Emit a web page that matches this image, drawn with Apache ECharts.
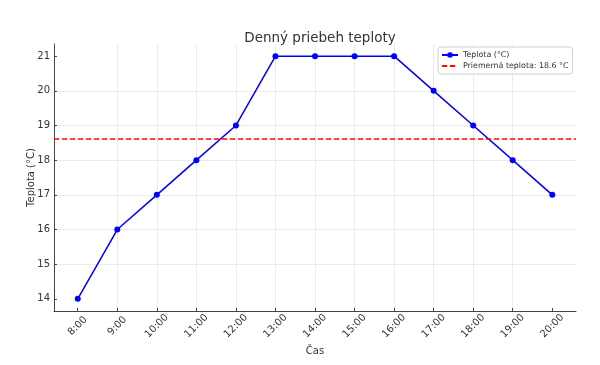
<!DOCTYPE html>
<html>
<head>
<meta charset="utf-8">
<script src="https://cdn.jsdelivr.net/npm/echarts@6/dist/echarts.min.js"></script>
<style>html,body{margin:0;padding:0;background:#fff}#c{width:600px;height:365px}</style>
</head>
<body>
<div id="c"></div>
<script>
const categories = ['8:00','9:00','10:00','11:00','12:00','13:00','14:00','15:00','16:00','17:00','18:00','19:00','20:00'];
const temperatures = [14,16,17,18,19,21,21,21,21,20,19,18,17];
const yTicks = [14,15,16,17,18,19,20,21];

const avg = temperatures.reduce((a,b)=>a+b,0)/temperatures.length;
const xIdx = categories.map((_,i)=>i);
const FONT = 'DejaVu Sans';
const avgName = 'Priemerná teplota: '+avg.toFixed(1)+' °C';

const chart = echarts.init(document.getElementById('c'), null, {renderer:'canvas'});
chart.setOption({
  animation:false,
  backgroundColor:'#fff',
  textStyle:{fontFamily:FONT},
  title:{text:'Denný priebeh teploty', left:315, top:26, textAlign:'center',
    textStyle:{fontFamily:FONT,fontSize:13.5,fontWeight:'normal',color:'#333'}},
  grid:{left:54,right:24,top:44,bottom:54,containLabel:false},
  legend:{
    orient:'vertical', left:438, top:47,
    padding:[4,4,4,3], itemGap:3, itemWidth:16, itemHeight:7, itemTextGap:6,
    borderColor:'#d0d0d0', borderWidth:1, borderRadius:3, backgroundColor:'#fff',
    textStyle:{fontFamily:FONT,fontSize:7.9,color:'#333'},
    data:['Teplota (°C)', {name:avgName, itemStyle:{opacity:0}}]
  },
  xAxis:{
    type:'value', min:-0.6, max:12.6, minInterval:1, maxInterval:1, splitNumber:13,
    name:'Čas', nameLocation:'middle', nameGap:26,
    nameTextStyle:{fontFamily:FONT,fontSize:10,color:'#333'},
    axisLine:{show:true,onZero:false,lineStyle:{color:'#444',width:1}},
    axisTick:{show:true,inside:true,length:3,lineStyle:{color:'#444'},customValues:xIdx},
    axisLabel:{rotate:45,align:'center',verticalAlign:'middle',fontSize:10,color:'#333',margin:15,customValues:xIdx,
      formatter:v=>Number.isInteger(v)&&categories[v]!==undefined?categories[v]:''},
    splitLine:{show:true,showMinLine:false,showMaxLine:false,lineStyle:{color:'#e6e6e6',width:0.8}}
  },
  yAxis:{
    type:'value', min:13.65, max:21.35, minInterval:1, maxInterval:1, splitNumber:8,
    name:'Teplota (°C)', nameLocation:'middle', nameGap:18, nameRotate:90, nameMoveOverlap:false,
    nameTextStyle:{fontFamily:FONT,fontSize:10,color:'#333'},
    axisLine:{show:true,onZero:false,lineStyle:{color:'#444',width:1}},
    axisTick:{show:true,inside:true,length:3,lineStyle:{color:'#444'},customValues:yTicks},
    axisLabel:{fontSize:10,color:'#333',margin:4,customValues:yTicks,
      formatter:v=>Number.isInteger(v)?String(v):''},
    splitLine:{show:true,showMinLine:false,showMaxLine:false,lineStyle:{color:'#e6e6e6',width:0.8}}
  },
  series:[
    {
      name:'Teplota (°C)', type:'line',
      data:temperatures.map((t,i)=>[i,t]),
      symbol:'circle', symbolSize:6,
      lineStyle:{color:'#0000ff',width:1.5},
      itemStyle:{color:'#0000ff'}
    },
    {
      name:avgName, type:'line',
      data:[], symbol:'none',
      lineStyle:{color:'#ff0000',width:1.5,type:[5,3]},
      itemStyle:{color:'#ff0000'},
      markLine:{
        silent:true, symbol:'none', label:{show:false},
        lineStyle:{color:'#ff0000',width:1.5,type:[5,3]},
        data:[{yAxis:avg}]
      }
    }
  ]
});
</script>
</body>
</html>
